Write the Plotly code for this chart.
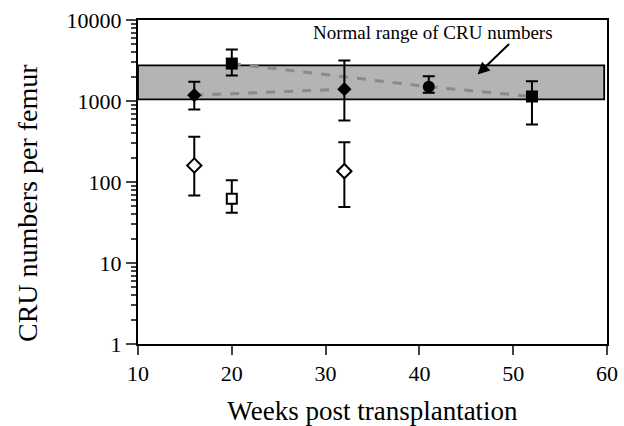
import plotly.graph_objects as go

# Normal range band
normal_x = [10, 59.7]
normal_low = 1050
normal_high = 2750

# Filled diamonds (connected by dashed line)
fd_x = [16, 32]
fd_y = [1180, 1400]
fd_hi = [1725, 3160]
fd_lo = [785, 574]

# Filled squares / circle series (connected by dashed line)
fs_x = [20, 41, 52]
fs_y = [2900, 1500, 1137]
fs_hi = [4320, 2025, 1757]
fs_lo = [2065, 1260, 513]
fs_sym = ["square", "circle", "square"]

# Open diamonds
od_x = [16, 32]
od_y = [160, 136]
od_hi = [361, 310]
od_lo = [68, 49]

# Open square
os_x = [20]
os_y = [62]
os_hi = [105]
os_lo = [41.7]

x_ticks = [10, 20, 30, 40, 50, 60]
y_ticks = [1, 10, 100, 1000, 10000]
y_tick_labels = ["1", "10", "100", "1000", "10000"]

FONT = "Liberation Serif, Times New Roman, serif"

def err(y, hi, lo):
    return dict(type="data", symmetric=False,
                array=[h - v for h, v in zip(hi, y)],
                arrayminus=[v - l for v, l in zip(y, lo)],
                color="black", thickness=2, width=6)

fig = go.Figure()

# band
fig.add_trace(go.Scatter(
    x=[normal_x[0], normal_x[1], normal_x[1], normal_x[0], normal_x[0]],
    y=[normal_low, normal_low, normal_high, normal_high, normal_low],
    mode="lines", fill="toself", fillcolor="#b4b4b4",
    line=dict(color="black", width=1.8), hoverinfo="skip", showlegend=False))

# dashed lines
fig.add_trace(go.Scatter(x=fd_x, y=fd_y, mode="lines",
                         line=dict(color="#8a8a8a", width=3, dash="dash"),
                         showlegend=False))
fig.add_trace(go.Scatter(x=fs_x, y=fs_y, mode="lines",
                         line=dict(color="#8a8a8a", width=3, dash="dash"),
                         showlegend=False))

# markers with error bars
fig.add_trace(go.Scatter(x=fd_x, y=fd_y, mode="markers",
                         error_y=err(fd_y, fd_hi, fd_lo),
                         marker=dict(symbol="diamond", size=11, color="black"),
                         showlegend=False))
fig.add_trace(go.Scatter(x=fs_x, y=fs_y, mode="markers",
                         error_y=err(fs_y, fs_hi, fs_lo),
                         marker=dict(symbol=fs_sym, size=12, color="black"),
                         showlegend=False))
fig.add_trace(go.Scatter(x=od_x, y=od_y, mode="markers",
                         error_y=err(od_y, od_hi, od_lo),
                         marker=dict(symbol="diamond", size=11, color="white",
                                     line=dict(color="black", width=2)),
                         showlegend=False))
fig.add_trace(go.Scatter(x=os_x, y=os_y, mode="markers",
                         error_y=err(os_y, os_hi, os_lo),
                         marker=dict(symbol="square", size=10, color="white",
                                     line=dict(color="black", width=2)),
                         showlegend=False))

fig.add_annotation(x=41.4, y=3.846, text="Normal range of CRU numbers",
                   showarrow=False, font=dict(family=FONT, size=19, color="black"))
fig.add_annotation(x=46.2, y=3.327, ax=33, ay=-32, text="", showarrow=True,
                   arrowhead=2, arrowsize=1.2, arrowwidth=2, arrowcolor="black")

# y-axis title placed as in the reference (slightly below plot centre)
fig.add_annotation(xref="paper", yref="paper", x=-0.2367, y=0.435,
                   text="CRU numbers per femur", textangle=-90, showarrow=False,
                   xanchor="center", yanchor="middle",
                   font=dict(family=FONT, size=28, color="black"))

fig.update_layout(
    width=624, height=426,
    margin=dict(l=138, r=17, t=20, b=82, autoexpand=False),
    paper_bgcolor="white", plot_bgcolor="white",
    font=dict(family=FONT, size=22, color="black"),
    showlegend=False,
)
fig.update_xaxes(range=[10, 60], tickvals=x_ticks, ticks="outside", ticklen=9,
                 tickwidth=2, showline=True, linewidth=2, linecolor="black",
                 mirror=True, showgrid=False, zeroline=False, automargin=False,
                 title=dict(text="Weeks post transplantation",
                            font=dict(size=27), standoff=16))
fig.update_yaxes(type="log", range=[0, 4], tickvals=y_ticks,
                 ticktext=y_tick_labels, ticks="outside", automargin=False,
                 ticklen=10, tickwidth=2, showline=True, linewidth=2,
                 linecolor="black", mirror=True, showgrid=False, zeroline=False,
                 minor=dict(ticks="outside", ticklen=5, tickwidth=1.5,
                            dtick="D1", showgrid=False))

fig.write_html("out.html", config={"displayModeBar": False},
               post_script="document.body.style.margin='0';document.body.style.overflow='hidden';")
